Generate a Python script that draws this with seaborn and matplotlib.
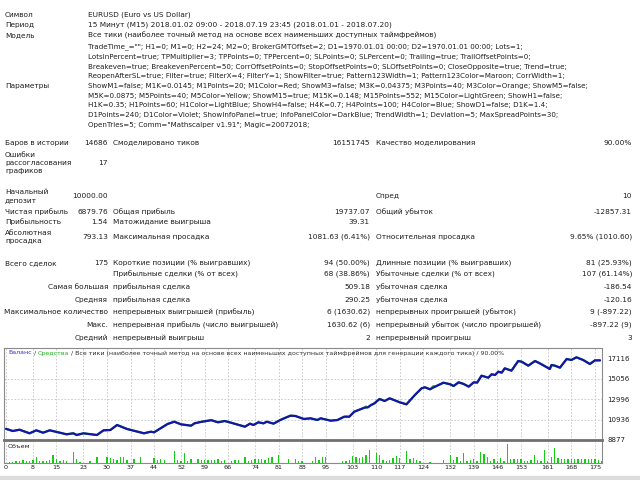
import matplotlib
matplotlib.use("Agg")
import matplotlib.pyplot as plt
from matplotlib.patches import Rectangle
import seaborn as sns

sns.set_theme(style="white")
plt.rcParams['font.family'] = ['DejaVu Sans']

# report header
header_labels = ["Символ", "Период", "Модель"]
header_values = [
    "EURUSD (Euro vs US Dollar)",
    "15 Минут (M15) 2018.01.02 09:00 - 2018.07.19 23:45 (2018.01.01 - 2018.07.20)",
    "Все тики (наиболее точный метод на основе всех наименьших доступных таймфреймов)",
]
param_lines = [
    'TradeTime_=""; H1=0; M1=0; H2=24; M2=0; BrokerGMTOffset=2; D1=1970.01.01 00:00; D2=1970.01.01 00:00; Lots=1;',
    'LotsInPercent=true; TPMultiplier=3; TPPoints=0; TPPercent=0; SLPoints=0; SLPercent=0; Trailing=true; TrailOffsetPoints=0;',
    'Breakeven=true; BreakevenPercent=50; CorrOffsetPoints=0; StopOffsetPoints=0; SLOffsetPoints=0; CloseOpposite=true; Trend=true;',
    'ReopenAfterSL=true; Filter=true; FilterX=4; FilterY=1; ShowFilter=true; Pattern123Width=1; Pattern123Color=Maroon; CorrWidth=1;',
    'ShowM1=false; M1K=0.0145; M1Points=20; M1Color=Red; ShowM3=false; M3K=0.04375; M3Points=40; M3Color=Orange; ShowM5=false;',
    'M5K=0.0875; M5Points=40; M5Color=Yellow; ShowM15=true; M15K=0.148; M15Points=552; M15Color=LightGreen; ShowH1=false;',
    'H1K=0.35; H1Points=60; H1Color=LightBlue; ShowH4=false; H4K=0.7; H4Points=100; H4Color=Blue; ShowD1=false; D1K=1.4;',
    'D1Points=240; D1Color=Violet; ShowInfoPanel=true; InfoPanelColor=DarkBlue; TrendWidth=1; Deviation=5; MaxSpreadPoints=30;',
    'OpenTries=5; Comm="Mathscalper v1.91"; Magic=20072018;',
]

# stats rows: label, value, label2, value2, label3, value3
stat_rows = [
    ("Баров в истории", "14686", "Смоделировано тиков", "16151745", "Качество моделирования", "90.00%"),
    ("Ошибки\nрассогласования\nграфиков", "17", "", "", "", ""),
    ("Начальный\nдепозит", "10000.00", "", "", "Спред", "10"),
    ("Чистая прибыль", "6879.76", "Общая прибыль", "19737.07", "Общий убыток", "-12857.31"),
    ("Прибыльность", "1.54", "Матожидание выигрыша", "39.31", "", ""),
    ("Абсолютная\nпросадка", "793.13", "Максимальная просадка", "1081.63 (6.41%)", "Относительная просадка", "9.65% (1010.60)"),
    ("Всего сделок", "175", "Короткие позиции (% выигравших)", "94 (50.00%)", "Длинные позиции (% выигравших)", "81 (25.93%)"),
    ("", "", "Прибыльные сделки (% от всех)", "68 (38.86%)", "Убыточные сделки (% от всех)", "107 (61.14%)"),
]
stat_y = [143, 163, 196, 212, 222, 237, 263, 274]

# rows whose first label is right aligned
trade_rows = [
    ("Самая большая", "прибыльная сделка", "509.18", "убыточная сделка", "-186.54"),
    ("Средняя", "прибыльная сделка", "290.25", "убыточная сделка", "-120.16"),
    ("Максимальное количество", "непрерывных выигрышей (прибыль)", "6 (1630.62)", "непрерывных проигрышей (убыток)", "9 (-897.22)"),
    ("Макс.", "непрерывная прибыль (число выигрышей)", "1630.62 (6)", "непрерывный убыток (число проигрышей)", "-897.22 (9)"),
    ("Средний", "непрерывный выигрыш", "2", "непрерывный проигрыш", "3"),
]
trade_y = [287, 300, 312, 325, 338]

# balance curve, read at its turning points (trade number, balance)
bal_trade = [0, 2, 4, 7, 9, 11, 13, 18, 20, 21, 23, 27, 29, 31, 33, 36, 41, 43, 44,
             48, 50, 52, 55, 56, 58, 61, 63, 65, 66.5, 71, 72.5, 73.5, 75, 76.5, 77.5,
             79.5, 81.5, 84.5, 86, 88.5, 90.5, 92.5, 93.5, 96.5, 98.5, 100.5, 102,
             103.5, 106.5, 107.5, 108.5, 109.5, 111, 112.5, 114, 117, 119, 121.5,
             123.5, 124.5, 126, 127.5, 130, 132, 133, 134.5, 136, 137.5, 139, 140,
             141.3, 143.3, 144.3, 145.3, 146.3, 147.3, 148.2, 150.2, 152.2, 153.2,
             155.2, 157.2, 158.6, 161.6, 162.1, 163.1, 164.6, 166.6, 168, 169.5,
             171.5, 173.5, 175, 176.5]
bal_value = [10000, 9780, 9910, 9550, 9850, 9610, 9850, 9450, 9550, 9380, 9550, 9380,
             9850, 9880, 10385, 9980, 9550, 9710, 9650, 10485, 10716, 10450, 10315,
             10550, 10700, 10870, 10656, 10787, 10650, 10214, 10520, 10385, 10656,
             10550, 10716, 10520, 10887, 11320, 11290, 10988, 11055, 10887, 11055,
             10820, 10887, 11220, 11220, 11722, 12124, 12157, 12394, 12565, 12998,
             12797, 13065, 12665, 12464, 13400, 14073, 14174, 13972, 14240, 14636,
             14475, 14304, 14676, 14505, 14240, 14676, 14643, 15340, 15139, 15480,
             15410, 15745, 15644, 16080, 15845, 16817, 16750, 16348, 16817, 16583,
             16013, 16415, 16348, 16147, 17018, 16917, 17187, 16917, 16515, 16880,
             16880]

# equity only shows where it pokes out of the balance line
eq_extra_trade = [82.5, 107.0, 110.2, 127.0]
eq_extra_value = [11050, 12250, 12800, 14300]

# trade volume per trade number (panel units)
vol_value = [
    0, 1, 1.3, 1.7, 1.7, 2.7, 2.3, 2, 3, 6, 1.7, 1.7, 2, 3.3, 8.3, 4, 2.3, 2.7, 1.7, 0,
    11, 4, 1, 0, 0, 1.7, 0, 5.7, 0, 0, 5.7, 5, 4.3, 3.3, 6.3, 6, 3.3, 0, 4.3, 0,
    6, 0, 0, 0, 5, 3.3, 3.7, 2.7, 0, 0, 11.7, 3.3, 2.3, 9.3, 1.7, 4, 0, 3.7, 3.3, 2.7,
    3.3, 2.7, 3.3, 3.7, 2.3, 3.3, 0, 2.3, 2.7, 3.3, 0, 5.7, 1.7, 3, 3.7, 4, 4.3, 3, 5, 5.7,
    0, 7.7, 0, 0, 4, 0, 4.3, 2.3, 2.3, 0, 0, 1.7, 6, 3.3, 6, 6.3, 0, 0, 0, 0,
    2.3, 2.3, 3, 6.7, 6.3, 5, 5.7, 8.3, 12.3, 0, 9.3, 7.7, 3, 2.3, 3, 5, 6.7, 5, 0, 11.7,
    4, 5, 3.3, 1.7, 0, 0, 1, 0, 0, 0, 3, 0, 7.7, 3, 5.7, 1.7, 10, 2.3, 3, 4.3,
    1.7, 11, 9, 5.7, 2.3, 4.3, 2.3, 5, 1.7, 19, 3.7, 3.7, 3.7, 3.7, 2.3, 1.7, 3, 7.7, 3, 1.7,
    13, 2.3, 5.7, 15, 5, 4.3, 4.3, 4.3, 4.3, 3.7, 3.7, 3.7, 4.3, 4.3, 4.3, 3.7, 3, 1.7,
]
vol_trade = list(range(len(vol_value)))

x_ticks = [0, 8, 15, 23, 30, 37, 44, 52, 59, 66, 74, 81, 88, 95, 103, 110, 117,
           124, 132, 139, 146, 153, 161, 168, 175]
y_ticks = [8877, 10936, 12996, 15056, 17116]
y_top = 18123

chart_title = [("Баланс", "#2f2fc8"), (" / ", "#303030"), ("Средства", "#22b022"),
               (" / Все тики (наиболее точный метод на основе всех наименьших доступных "
                "таймфреймов для генерации каждого тика) / 90.00%", "#303030")]

W, H = 640, 480
fig = plt.figure(figsize=(6.4, 4.8), dpi=100)
fig.patch.set_facecolor("white")
TXT = "#1e1e1e"
FS = 5.3


def put(x, y, s, ha="left", size=FS, color=TXT):
    if not s:
        return
    lines = s.split("\n")
    step = 8.3
    y0 = y - step * (len(lines) - 1) / 2
    for k, line in enumerate(lines):
        fig.text(x / W, 1 - (y0 + k * step) / H, line, ha=ha, va="center",
                 fontsize=size, color=color)


for lab, val, y in zip(header_labels, header_values, [15, 25, 35]):
    put(5, y, lab)
    put(88, y, val)

for k, line in enumerate(param_lines):
    put(88, 47 + 9.75 * k, line, size=5.1)
put(5, 86, "Параметры")

for (l1, v1, l2, v2, l3, v3), y in zip(stat_rows, stat_y):
    put(5, y, l1)
    put(108, y, v1, ha="right")
    put(113, y, l2)
    put(370, y, v2, ha="right")
    put(376, y, l3)
    put(632, y, v3, ha="right")

for (l1, l2, v2, l3, v3), y in zip(trade_rows, trade_y):
    put(108, y, l1, ha="right")
    put(113, y, l2)
    put(370, y, v2, ha="right")
    put(376, y, l3)
    put(632, y, v3, ha="right")

# balance / equity panel
ax = fig.add_axes([4 / W, 1 - 440 / H, 598 / W, 92 / H])
axv = fig.add_axes([4 / W, 1 - 463 / H, 598 / W, 21.5 / H])

eq_pts = sorted(zip(bal_trade + eq_extra_trade, bal_value + eq_extra_value))
sns.lineplot(x=[p[0] for p in eq_pts], y=[p[1] for p in eq_pts], ax=ax,
             color="#22c022", lw=1.5, sort=False, estimator=None)
sns.lineplot(x=bal_trade, y=bal_value, ax=ax, color="#1414a8", lw=1.6,
             sort=False, estimator=None)

for a in (ax, axv):
    a.set_xlim(-0.6, 177.1)
    a.set_xticks(x_ticks)
    a.grid(axis="x", ls=(0, (2, 2)), color="#c4c4c4", lw=0.6)
    a.set_xlabel("")
    a.set_ylabel("")
    for sp in a.spines.values():
        sp.set_color("#8a8a8a")
        sp.set_linewidth(0.8)

ax.set_ylim(y_ticks[0], y_top)
ax.set_yticks(y_ticks)
ax.set_yticklabels([str(v) for v in y_ticks])
ax.yaxis.tick_right()
ax.tick_params(axis="y", length=0, pad=4, labelsize=5, colors=TXT)
ax.tick_params(axis="x", length=0, labelbottom=False)
for v in y_ticks[1:4]:
    ax.axhline(v, ls=(0, (2, 2)), color="#c4c4c4", lw=0.6, zorder=0)
ax.spines["bottom"].set_linewidth(2.0)
ax.spines["bottom"].set_color("#707070")

axv.bar(vol_trade, vol_value, width=0.4, color="#16cc16", linewidth=0)
axv.set_ylim(0, 21)
axv.set_yticks([])
axv.set_xticklabels([str(t) for t in x_ticks])
axv.tick_params(axis="x", length=0, pad=1.5, labelsize=4.6, colors=TXT)
axv.spines["top"].set_visible(False)
axv.text(8 / W, 1 - 447 / H, "Объем", transform=fig.transFigure, fontsize=4.6,
         color=TXT, va="center")

# multi coloured chart title
prev = fig.text(8 / W, 1 - 353 / H, chart_title[0][0], color=chart_title[0][1],
                fontsize=4.5, va="center")
for s, c in chart_title[1:]:
    prev = ax.annotate(s, xy=(1, 0.5), xycoords=prev, va="center", ha="left",
                       fontsize=4.5, color=c, annotation_clip=False)

# tester tab strip at the very bottom
fig.patches.append(Rectangle((0, 0), 1, 4 / H, transform=fig.transFigure,
                             color="#dcdcdc", zorder=0))

fig.savefig("out.png", dpi=100)
